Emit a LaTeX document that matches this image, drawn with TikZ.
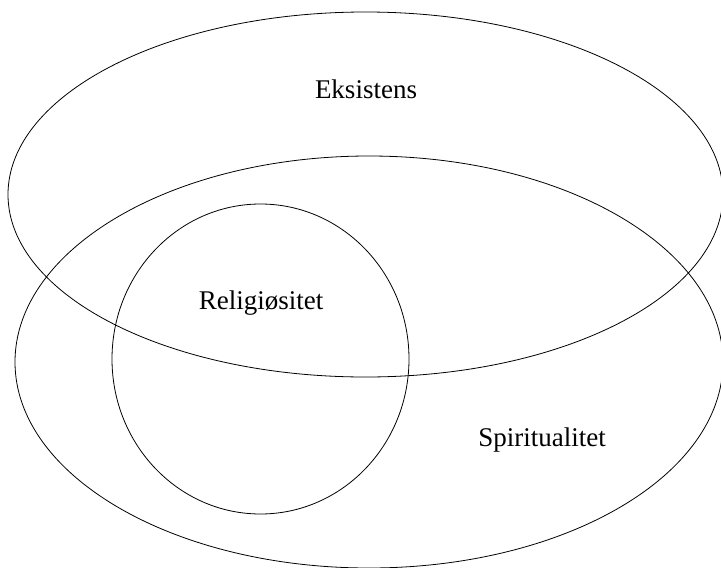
\documentclass[tikz,border=0pt]{standalone}
\usepackage{fontspec}
\setmainfont{Liberation Serif}
\usetikzlibrary{shapes.geometric}

\begin{document}
\begin{tikzpicture}[
    x=1pt, y=-1pt,
    set/.style={ellipse, draw, line width=0.8pt, inner sep=0pt},
    lbl/.style={font=\fontsize{27}{32}\selectfont, inner sep=0pt}
]
\useasboundingbox (0,0) rectangle (721,568);

% Sets
\node[set, minimum width=715pt, minimum height=365pt] (eks) at (365.5,194.5) {};
\node[set, minimum width=708pt, minimum height=412pt] (spir) at (369,362) {};
\node[set, minimum width=297pt, minimum height=310pt] (rel) at (260.5,359) {};

% Labels
\node[lbl] (eksname) at (366,89) {Eksistens};
\node[lbl] (relname) at (261,303) {Religiøsitet};
\node[lbl] (spirname) at (542,440) {Spiritualitet};

\end{tikzpicture}
\end{document}
